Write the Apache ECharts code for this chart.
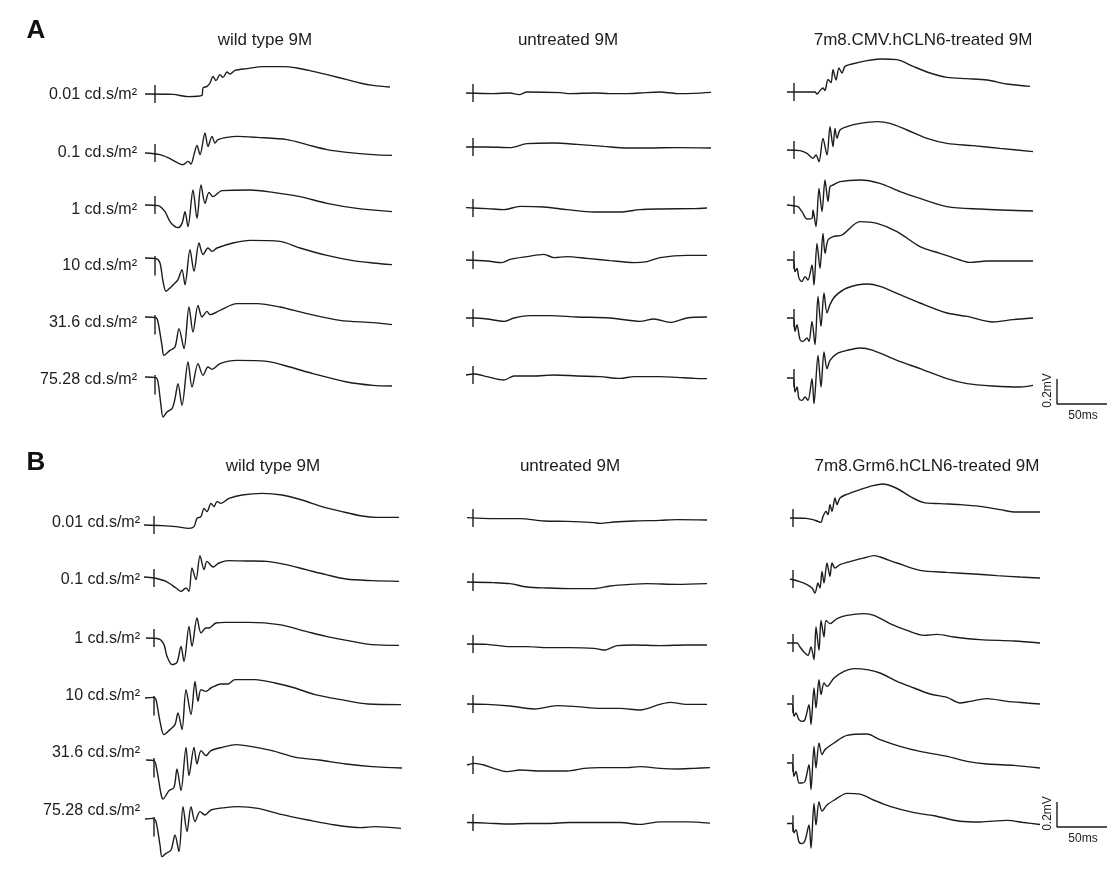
<!DOCTYPE html>
<html><head><meta charset="utf-8">
<script src="https://cdn.jsdelivr.net/npm/echarts@6/dist/echarts.min.js"></script>
<style>html,body{margin:0;padding:0;background:#fff}#c{width:1112px;height:870px}</style>
</head><body><div id="c"></div><script>
// ---------- DATA: ERG traces, [time ms after flash, amplitude µV] ----------
const INTENSITIES = ['0.01', '0.1', '1', '10', '31.6', '75.28'];
const TITLES_A = ['wild type 9M', 'untreated 9M', '7m8.CMV.hCLN6-treated 9M'];
const TITLES_B = ['wild type 9M', 'untreated 9M', '7m8.Grm6.hCLN6-treated 9M'];
const SCALE_MV = 0.2, SCALE_MS = 50;

// Panel A, wild type
const A_WT_R1 = [[-10,0],[18,-3],[33,-21],[47,-11],[48,48],[52,61],[55,88],[58,141],[61,107],[65,155],[68,133],[72,176],[75,160],[80,189],[92,203],[108,219],[128,219],[142,208],[158,181],[175,149],[192,115],[205,88],[218,69],[235,56]];
const A_WT_R2 = [[-10,0],[5,-13],[15,-45],[28,-93],[33,-67],[36,-88],[39,-13],[42,61],[45,-13],[50,160],[53,53],[57,133],[60,80],[63,107],[72,125],[82,133],[102,125],[132,107],[152,67],[172,27],[192,5],[218,-13],[237,-19]];
const A_WT_R3 = [[-10,0],[3,-5],[10,-53],[15,-133],[20,-173],[23,-181],[27,-147],[30,-53],[33,-173],[38,120],[42,-107],[46,160],[50,13],[54,101],[58,67],[67,115],[95,120],[118,101],[145,67],[172,13],[202,-27],[237,-53]];
const A_WT_R4 = [[-10,0],[1,-5],[5,-40],[8,-187],[11,-267],[15,-240],[20,-200],[23,-173],[27,-93],[30,-213],[35,67],[39,-107],[44,120],[48,27],[53,80],[57,53],[62,80],[78,120],[95,141],[125,133],[145,80],[172,21],[198,-21],[218,-40],[237,-53]];
const A_WT_R5 = [[-10,0],[1,-5],[3,-40],[7,-227],[9,-307],[15,-267],[20,-240],[24,-93],[29,-253],[34,80],[38,-120],[43,93],[47,0],[52,45],[55,19],[65,53],[82,107],[102,107],[125,80],[152,27],[185,-27],[218,-45],[237,-61]];
const A_WT_R6 = [[-10,0],[1,-5],[3,-40],[6,-227],[8,-320],[12,-280],[17,-253],[20,-173],[23,-53],[27,-227],[33,120],[37,-80],[43,107],[48,13],[53,80],[57,61],[65,107],[82,133],[112,125],[135,80],[158,27],[192,-40],[218,-67],[237,-72]];
// Panel A, untreated
const A_UN_R1 = [[-7,0],[21,-5],[37,0],[46,-13],[54,8],[87,3],[97,-5],[121,0],[137,-5],[154,-5],[167,0],[187,8],[204,-5],[221,-3],[238,5]];
const A_UN_R2 = [[-7,0],[14,0],[37,-5],[54,27],[81,32],[104,21],[131,5],[154,-8],[174,-8],[204,-5],[238,-8]];
const A_UN_R3 = [[-7,3],[14,-5],[31,-13],[47,13],[71,8],[94,-13],[121,-32],[147,-32],[167,-13],[187,-8],[221,-5],[234,0]];
const A_UN_R4 = [[-7,0],[14,-8],[29,-21],[37,5],[54,27],[71,45],[81,19],[94,27],[114,13],[137,-5],[161,-21],[174,-13],[187,19],[214,37],[234,37]];
const A_UN_R5 = [[-7,0],[1,0],[14,-8],[31,-27],[41,0],[57,19],[77,19],[104,8],[137,0],[167,-27],[181,-8],[197,-35],[214,0],[234,8]];
const A_UN_R6 = [[-7,0],[2,8],[14,-13],[31,-40],[41,-8],[61,-8],[81,0],[104,-8],[127,-13],[147,-27],[161,-13],[187,-13],[204,-19],[221,-27],[234,-29]];
// Panel A, 7m8.CMV.hCLN6-treated
const A_TR_R1 = [[-7,0],[21,0],[23,-16],[26,11],[29,32],[31,11],[34,101],[37,75],[39,179],[42,96],[45,192],[48,152],[51,205],[58,224],[73,251],[86,264],[103,259],[119,205],[136,152],[153,117],[173,107],[193,96],[213,64],[236,45]];
const A_TR_R2 = [[-7,0],[6,-5],[13,-27],[19,-67],[22,-40],[25,-93],[29,93],[33,-40],[36,187],[39,27],[41,173],[43,93],[46,160],[53,187],[66,213],[83,227],[96,213],[113,160],[133,93],[153,53],[179,35],[206,13],[239,-13]];
const A_TR_R3 = [[-7,0],[1,-8],[4,-13],[8,-53],[13,-112],[18,-107],[19,-40],[22,-173],[25,133],[28,-53],[31,200],[34,27],[36,147],[39,160],[46,187],[66,200],[86,173],[106,107],[126,53],[153,-13],[186,-32],[239,-48]];
const A_TR_R4 = [[-7,0],[-1,0],[1,-93],[3,-67],[5,-147],[8,-173],[11,-133],[14,-160],[18,-40],[20,-200],[23,133],[26,-67],[29,213],[31,53],[34,160],[39,187],[48,200],[66,307],[83,293],[103,227],[126,107],[146,53],[166,0],[176,-19],[193,-8],[219,-8],[239,-8]];
const A_TR_R5 = [[-7,0],[-1,0],[1,-107],[3,-53],[6,-173],[9,-187],[13,-160],[15,-187],[18,-27],[21,-213],[24,173],[27,-67],[30,200],[33,40],[36,107],[41,173],[53,240],[73,272],[86,253],[106,187],[126,120],[153,40],[173,13],[199,-32],[219,-13],[239,0]];
const A_TR_R6 = [[-7,0],[-1,0],[1,-112],[3,-72],[5,-165],[8,-179],[11,-152],[14,-179],[18,-5],[20,-205],[24,181],[27,-72],[30,208],[33,75],[36,141],[43,195],[53,221],[66,240],[79,221],[103,141],[126,75],[153,-5],[173,-45],[199,-64],[226,-72],[239,-59]];
// Panel B, wild type
const B_WT_R1 = [[-10,0],[8,-5],[22,-13],[35,-27],[40,-13],[43,53],[47,67],[50,133],[53,107],[57,173],[60,147],[63,187],[67,173],[75,213],[88,240],[108,253],[128,240],[148,200],[168,147],[188,107],[208,72],[222,61],[245,61]];
const B_WT_R2 = [[-10,8],[0,0],[12,-27],[22,-80],[27,-107],[32,-80],[35,-107],[38,80],[42,-13],[46,179],[50,67],[53,133],[59,88],[65,120],[75,139],[92,136],[112,133],[132,107],[152,67],[172,27],[192,-8],[218,-21],[245,-27]];
const B_WT_R3 = [[-8,0],[5,-8],[10,-53],[13,-147],[18,-213],[23,-195],[27,-67],[30,-187],[35,93],[38,-67],[43,160],[47,40],[52,80],[55,80],[62,120],[72,125],[95,125],[125,107],[152,53],[172,13],[198,-27],[218,-53],[245,-59]];
const B_WT_R4 = [[-9,0],[0,5],[2,-13],[6,-187],[10,-293],[16,-253],[21,-213],[24,-120],[28,-253],[32,67],[37,-133],[41,133],[44,-27],[47,67],[52,53],[57,80],[67,112],[74,112],[81,147],[101,147],[121,120],[141,80],[161,27],[187,-13],[214,-48],[247,-53]];
const B_WT_R5 = [[-8,0],[0,-5],[3,-85],[7,-272],[9,-312],[15,-245],[20,-219],[23,-72],[27,-245],[32,101],[35,-125],[40,101],[43,-32],[47,75],[52,35],[57,75],[68,101],[82,123],[98,107],[118,75],[142,21],[165,0],[192,-32],[218,-53],[248,-64]];
const B_WT_R6 = [[-9,0],[-1,5],[2,-21],[6,-208],[8,-301],[12,-275],[17,-248],[21,-128],[25,-261],[29,99],[33,-101],[37,99],[41,-21],[46,59],[51,32],[57,72],[71,91],[84,99],[104,85],[127,37],[154,-8],[181,-48],[207,-69],[221,-61],[247,-75]];
// Panel B, untreated
const B_UN_R1 = [[-6,3],[21,-5],[47,-5],[71,-24],[94,-27],[121,-37],[127,-43],[141,-32],[161,-24],[187,-19],[204,-13],[234,-16]];
const B_UN_R2 = [[-6,0],[21,-5],[37,-13],[54,-40],[74,-48],[97,-53],[121,-53],[137,-32],[157,-19],[174,-13],[204,-19],[234,-13]];
const B_UN_R3 = [[-6,0],[14,-3],[37,-21],[54,-21],[74,-29],[97,-29],[121,-35],[131,-48],[144,-13],[161,-8],[187,-13],[214,-8],[234,-8]];
const B_UN_R4 = [[-6,0],[14,-3],[37,-16],[61,-40],[84,-13],[104,-21],[127,-35],[147,-35],[167,-48],[187,-3],[197,13],[214,-3],[234,-3]];
const B_UN_R5 = [[-6,0],[1,13],[11,0],[21,-27],[34,-53],[47,-40],[67,-48],[94,-48],[111,-27],[127,-21],[154,-21],[167,-13],[187,-27],[204,-32],[221,-27],[237,-21]];
const B_UN_R6 = [[-6,0],[14,-5],[37,-13],[54,-8],[74,-8],[97,0],[121,0],[147,0],[167,-16],[187,5],[214,5],[237,-5]];
// Panel B, 7m8.Grm6.hCLN6-treated
const B_TR_R1 = [[-3,0],[13,-3],[20,-13],[25,-27],[28,-35],[30,13],[33,53],[35,27],[37,107],[39,53],[42,160],[44,107],[47,160],[53,187],[67,227],[80,259],[90,272],[103,240],[117,173],[130,125],[147,115],[167,107],[187,93],[207,67],[223,48],[247,48]];
const B_TR_R2 = [[-3,0],[6,-19],[14,-45],[19,-72],[22,-112],[25,-32],[27,-72],[29,61],[31,-32],[34,128],[37,21],[39,128],[42,88],[47,115],[54,133],[71,168],[81,187],[87,176],[104,128],[127,69],[154,53],[181,40],[204,27],[227,16],[247,8]];
const B_TR_R3 = [[-6,0],[4,0],[7,-32],[11,-72],[15,-99],[18,-32],[21,-133],[23,128],[26,-59],[28,181],[31,48],[33,181],[37,155],[44,195],[54,221],[71,235],[81,221],[97,155],[114,101],[131,61],[144,69],[161,48],[187,27],[221,16],[247,0]];
const B_TR_R4 = [[-6,0],[-1,0],[1,-99],[3,-72],[6,-125],[9,-139],[12,-125],[16,-5],[18,-165],[21,128],[23,-32],[26,195],[28,75],[31,168],[34,141],[41,208],[51,261],[61,283],[74,275],[87,248],[104,181],[121,128],[137,80],[154,53],[167,8],[177,21],[194,43],[214,21],[234,8],[247,0]];
const B_TR_R5 = [[-6,0],[-1,0],[1,-107],[3,-67],[6,-160],[9,-160],[12,-147],[16,-13],[18,-213],[21,133],[23,-40],[26,160],[29,67],[32,107],[41,160],[54,221],[74,232],[87,187],[107,133],[127,93],[154,53],[174,13],[194,-8],[221,-19],[247,-40]];
const B_TR_R6 = [[-6,0],[-1,0],[1,-80],[3,-53],[6,-160],[9,-173],[12,-147],[16,-13],[18,-213],[21,173],[23,-13],[26,187],[29,107],[34,160],[41,200],[54,259],[67,253],[81,200],[97,147],[121,93],[141,67],[167,19],[187,13],[214,27],[231,8],[247,-8]];
// flash marker extent (µV) at t = 0
const MARK_SYM = [-72, 72];
const MARK_LOW = [-140, 16];

// ---------- LAYOUT (pixels) ----------
const PANELS = [
  { cols: [
      { x: 155, rows: [94,153,205,258,317,377], traces: [A_WT_R1,A_WT_R2,A_WT_R3,A_WT_R4,A_WT_R5,A_WT_R6], lowMark: true },
      { x: 473, rows: [93,147,208,260,318,375], traces: [A_UN_R1,A_UN_R2,A_UN_R3,A_UN_R4,A_UN_R5,A_UN_R6] },
      { x: 794, rows: [92,150,205,260,318,378], traces: [A_TR_R1,A_TR_R2,A_TR_R3,A_TR_R4,A_TR_R5,A_TR_R6] }],
    titles: TITLES_A, titleX: [265, 568, 923], titleY: 40, letter: 'A', letterY: 31,
    labelRight: 137, labelY: [95,153,210,266,323,380], scaleCorner: [1057, 404] },
  { cols: [
      { x: 154, rows: [525,578,638,698,760,819], traces: [B_WT_R1,B_WT_R2,B_WT_R3,B_WT_R4,B_WT_R5,B_WT_R6], lowMark: true },
      { x: 473, rows: [518,582,644,704,765,825], traces: [B_UN_R1,B_UN_R2,B_UN_R3,B_UN_R4,B_UN_R5,B_UN_R6] },
      { x: 793, rows: [518,579,643,704,763,827], traces: [B_TR_R1,B_TR_R2,B_TR_R3,B_TR_R4,B_TR_R5,B_TR_R6] }],
    titles: TITLES_B, titleX: [273, 570, 927], titleY: 466, letter: 'B', letterY: 463,
    labelRight: 140, labelY: [523,580,639,696,753,811], scaleCorner: [1057, 827] }
];
const PX_PER_MS = 1, UV_PER_PX = 8;
const T_MIN = -15, T_MAX = 250, V_MIN = -400, V_MAX = 400;
const INK = '#1c1c1c';
const FONT = '"Liberation Sans", Arial, sans-serif';

const grids = [], xAxes = [], yAxes = [], series = [], graphic = [];
function addGrid(left, top, width, height, xmin, xmax, ymin, ymax) {
  const i = grids.length;
  grids.push({ left, top, width, height });
  xAxes.push({ type: 'value', gridIndex: i, min: xmin, max: xmax, show: false });
  yAxes.push({ type: 'value', gridIndex: i, min: ymin, max: ymax, show: false });
  return i;
}
function addLine(i, data, smooth) {
  series.push({ type: 'line', xAxisIndex: i, yAxisIndex: i, data, showSymbol: false,
    smooth: smooth, lineStyle: { color: INK, width: 1.4 }, silent: true, animation: false, clip: false });
}
PANELS.forEach(p => {
  p.cols.forEach((c, ci) => {
    c.rows.forEach((baseY, ri) => {
      const h = (V_MAX - V_MIN) / UV_PER_PX;
      const gi = addGrid(c.x + T_MIN * PX_PER_MS, baseY - V_MAX / UV_PER_PX,
        (T_MAX - T_MIN) * PX_PER_MS, h, T_MIN, T_MAX, V_MIN, V_MAX);
      addLine(gi, c.traces[ri], 0.3);
      const m = (c.lowMark && ri >= 3) ? MARK_LOW : MARK_SYM;
      addLine(gi, [[0, m[0]], [0, m[1]]], false);
    });
    graphic.push({ type: 'text', x: p.titleX[ci], y: p.titleY,
      style: { text: p.titles[ci], font: '17px ' + FONT, fill: INK, textAlign: 'center', textVerticalAlign: 'middle' } });
  });
  INTENSITIES.forEach((lab, ri) => {
    graphic.push({ type: 'text', x: p.labelRight, y: p.labelY[ri],
      style: { text: lab + ' cd.s/m\u00B2', font: '16px ' + FONT, fill: INK, textAlign: 'right', textVerticalAlign: 'middle' } });
  });
  graphic.push({ type: 'text', x: 36, y: p.letterY,
    style: { text: p.letter, font: 'bold 26px ' + FONT, fill: '#111', textAlign: 'center', textVerticalAlign: 'middle' } });
  // scale bar, drawn through its own value axes
  const sx = p.scaleCorner[0], sy = p.scaleCorner[1];
  const vH = SCALE_MV * 1000 / UV_PER_PX, tW = SCALE_MS * PX_PER_MS;
  const si = addGrid(sx, sy - vH, tW, vH, 0, SCALE_MS, 0, SCALE_MV * 1000);
  series.push({ type: 'line', xAxisIndex: si, yAxisIndex: si,
    data: [[0, SCALE_MV * 1000], [0, 0], [SCALE_MS, 0]], showSymbol: false,
    lineStyle: { color: INK, width: 1.4 }, silent: true, animation: false, clip: false });
  graphic.push({ type: 'text', x: sx - 9, y: sy - vH / 2 - 1, rotation: Math.PI / 2,
    style: { text: SCALE_MV + 'mV', font: '12px ' + FONT, fill: INK, textAlign: 'center', textVerticalAlign: 'middle' } });
  graphic.push({ type: 'text', x: sx + 26, y: sy + 12,
    style: { text: SCALE_MS + 'ms', font: '12px ' + FONT, fill: INK, textAlign: 'center', textVerticalAlign: 'middle' } });
});

const chart = echarts.init(document.getElementById('c'));
chart.setOption({ backgroundColor: '#fff', animation: false, grid: grids, xAxis: xAxes, yAxis: yAxes, series, graphic });
</script></body></html>
